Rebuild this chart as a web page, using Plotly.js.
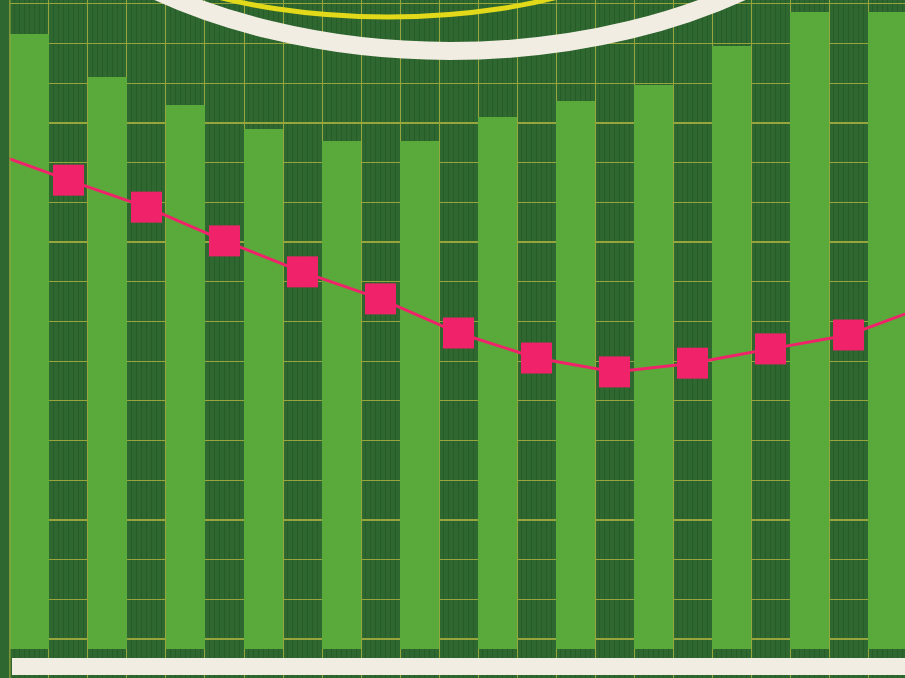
<!DOCTYPE html>
<html>
<head>
<meta charset="utf-8">
<script src="https://cdn.plot.ly/plotly-3.0.1.min.js"></script>
<style>html,body{margin:0;padding:0;background:#2e672f;}#chart{width:905px;height:678px;}</style>
</head>
<body>
<div id="chart"></div>
<script>
// Bar series (one per column)
const barCategories = [0, 1, 2, 3, 4, 5, 6, 7, 8, 9, 10, 11];
const barValues = [155, 144, 137, 131, 128, 128, 134, 138, 142, 152, 160.5, 160.5];

// Line series, placed between bars (first and last points run off the frame)
const linePositions = [-0.5, 0.5, 1.5, 2.5, 3.5, 4.5, 5.5, 6.5, 7.5, 8.5, 9.5, 10.5, 11.5];
const lineValues = [125.2, 118.1, 111.3, 102.8, 95.0, 88.2, 79.6, 73.3, 69.8, 72.0, 75.6, 79.1, 86.4];
const lineMarkerShown = [false, true, true, true, true, true, true, true, true, true, true, true, false];

const W = 905, H = 678;
const px = v => v / W;
const py = v => 1 - v / H;

const DARK = '#2e672f';
const LIGHT = '#5aaa3b';
const GRID = '#97a63c';
const PINK = '#f0236a';
const CREAM = '#f2ede3';
const YELLOW = '#e3d91b';

const traces = [
  {
    type: 'bar',
    x: barCategories,
    y: barValues,
    width: 0.5,
    marker: {color: LIGHT, line: {width: 0}},
    hoverinfo: 'skip'
  },
  {
    type: 'scatter',
    mode: 'lines',
    x: linePositions,
    y: lineValues,
    line: {color: PINK, width: 3},
    hoverinfo: 'skip'
  },
  {
    type: 'scatter',
    mode: 'markers',
    x: linePositions.filter((_, i) => lineMarkerShown[i]),
    y: lineValues.filter((_, i) => lineMarkerShown[i]),
    marker: {symbol: 'square', color: PINK, size: 31, opacity: 1, line: {width: 0}},
    hoverinfo: 'skip'
  }
];

const layout = {
  width: W,
  height: H,
  margin: {l: 0, r: 0, t: 0, b: 0},
  paper_bgcolor: DARK,
  plot_bgcolor: DARK,
  showlegend: false,
  bargap: 0,
  xaxis: {
    range: [-0.378, 11.224],
    showticklabels: false,
    ticks: '',
    zeroline: false,
    showline: false,
    tick0: -0.25,
    dtick: 0.5,
    showgrid: true,
    gridcolor: GRID,
    gridwidth: 1,
    minor: {dtick: 0.0625, showgrid: true, gridcolor: 'rgba(30,80,34,0.45)', gridwidth: 1}
  },
  yaxis: {
    range: [-7.3, 163.48],
    showticklabels: false,
    ticks: '',
    zeroline: false,
    showline: false,
    tick0: 2.52,
    dtick: 10,
    showgrid: true,
    gridcolor: GRID,
    gridwidth: 1.2
  },
  shapes: [
    // left dark strip
    {type: 'rect', xref: 'paper', yref: 'paper', x0: 0, x1: px(9.5), y0: 0, y1: 1,
     fillcolor: DARK, line: {width: 0}, layer: 'above'},
    {type: 'line', xref: 'paper', yref: 'paper', x0: px(10), x1: px(10), y0: 0, y1: 1,
     line: {color: GRID, width: 1}, layer: 'above'},
    // cream band at the bottom
    {type: 'rect', xref: 'paper', yref: 'paper', x0: px(12), x1: 1.01, y0: py(675), y1: py(658),
     fillcolor: CREAM, line: {width: 0}, layer: 'above'},
    // yellow arc
    {type: 'circle', xref: 'paper', yref: 'paper', x0: px(84), x1: px(692), y0: py(17), y1: py(-217),
     line: {color: YELLOW, width: 5}, fillcolor: 'rgba(0,0,0,0)', layer: 'above'},
    // white arc
    {type: 'circle', xref: 'paper', yref: 'paper', x0: px(-40), x1: px(940), y0: py(51), y1: py(-551),
     line: {color: CREAM, width: 18}, fillcolor: 'rgba(0,0,0,0)', layer: 'above'}
  ]
};

Plotly.newPlot('chart', traces, layout, {displayModeBar: false, staticPlot: true});
</script>
</body>
</html>
